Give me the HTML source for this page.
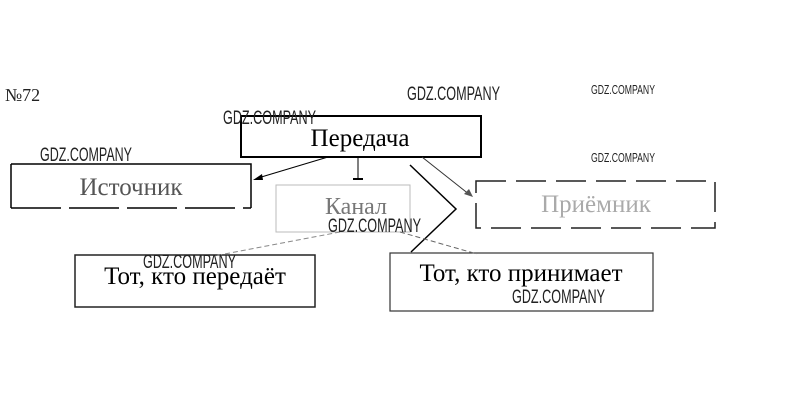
<!DOCTYPE html>
<html><head><meta charset="utf-8"><style>
html,body{margin:0;padding:0;background:#fff;width:806px;height:417px;overflow:hidden}
svg{display:block}
.t{font-family:"Liberation Serif","DejaVu Serif",serif;}
.w{font-family:"Liberation Sans",sans-serif;fill:#222}
</style></head><body>
<svg width="806" height="417" viewBox="0 0 806 417" xmlns="http://www.w3.org/2000/svg">
<text x="5" y="101" class="t" font-size="18" fill="#222">№72</text>
<rect x="241" y="116" width="240" height="41" fill="none" stroke="#000" stroke-width="2"/>
<text x="360" y="146" class="t" font-size="25" text-anchor="middle" fill="#000">Передача</text>
<path d="M11,164 H251 V208 M11,164 V208" fill="none" stroke="#000" stroke-width="1.5"/>
<line x1="11" y1="208" x2="251" y2="208" stroke="#000" stroke-width="1.5" stroke-dasharray="50,8"/>
<text x="131" y="195" class="t" font-size="25" text-anchor="middle" fill="#555">Источник</text>
<rect x="276" y="185" width="134" height="47" fill="none" stroke="#bbb" stroke-width="1"/>
<polyline points="410,165 456,209 411,252" fill="none" stroke="#000" stroke-width="1.5"/>
<text x="356" y="214" class="t" font-size="24" text-anchor="middle" fill="#777">Канал</text>
<rect x="476" y="181" width="239" height="47" fill="none" stroke="#222" stroke-width="1.5" stroke-dasharray="30,10"/>
<text x="596" y="212" class="t" font-size="25" text-anchor="middle" fill="#aaa">Приёмник</text>
<rect x="75" y="255" width="240" height="52" fill="none" stroke="#222" stroke-width="1.5"/>
<text x="195" y="284" class="t" font-size="25" text-anchor="middle" fill="#000">Тот, кто передаёт</text>
<rect x="390" y="253" width="263" height="58" fill="none" stroke="#333" stroke-width="1.2"/>
<text x="521" y="281" class="t" font-size="25" text-anchor="middle" fill="#000">Тот, кто принимает</text>
<line x1="328" y1="157" x2="258" y2="178" stroke="#000"/>
<polygon points="253,180 262,174 263,180" fill="#000"/>
<line x1="358" y1="157" x2="358" y2="179" stroke="#000"/>
<line x1="353" y1="179" x2="363" y2="179" stroke="#000" stroke-width="2"/>
<line x1="422" y1="157" x2="470" y2="195" stroke="#333"/>
<polygon points="473,197 464,194 469,189" fill="#555"/>
<line x1="340" y1="232" x2="214" y2="256" stroke="#888" stroke-dasharray="5,3"/>
<line x1="400" y1="232" x2="477" y2="254" stroke="#666" stroke-dasharray="5,3"/>
<text x="407" y="100" class="w" font-size="19" textLength="93" lengthAdjust="spacingAndGlyphs">GDZ.COMPANY</text>
<text x="591" y="94" class="w" font-size="13" textLength="64" lengthAdjust="spacingAndGlyphs">GDZ.COMPANY</text>
<text x="223" y="124" class="w" font-size="19" textLength="93" lengthAdjust="spacingAndGlyphs">GDZ.COMPANY</text>
<text x="40" y="161" class="w" font-size="19" textLength="92" lengthAdjust="spacingAndGlyphs">GDZ.COMPANY</text>
<text x="591" y="162" class="w" font-size="13" textLength="64" lengthAdjust="spacingAndGlyphs">GDZ.COMPANY</text>
<text x="328" y="232" class="w" font-size="19" textLength="93" lengthAdjust="spacingAndGlyphs">GDZ.COMPANY</text>
<text x="143" y="268" class="w" font-size="19" textLength="93" lengthAdjust="spacingAndGlyphs">GDZ.COMPANY</text>
<text x="512" y="303" class="w" font-size="19" textLength="93" lengthAdjust="spacingAndGlyphs">GDZ.COMPANY</text>
</svg>
</body></html>
